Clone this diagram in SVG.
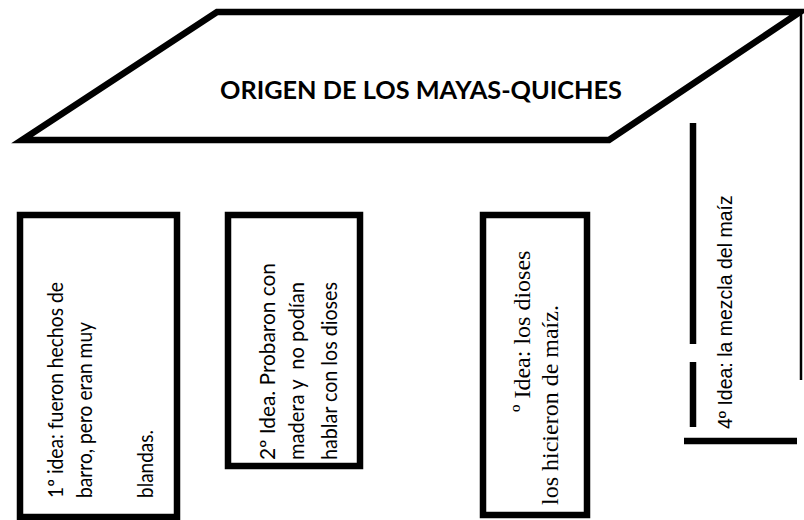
<svg xmlns="http://www.w3.org/2000/svg" width="804" height="520" viewBox="0 0 804 520">
<style>
.box{fill:#fff;stroke:#000;stroke-width:6.5}
.cal{font-family:Lato,"Liberation Sans",sans-serif;font-size:21px;fill:#000}
.tnr{font-family:"Liberation Serif",serif;font-size:24px;fill:#000}
.ari{font-family:"Liberation Sans",Arial,sans-serif;font-size:19.5px;fill:#000}
.bar{stroke:#000;stroke-width:6.5;fill:none}
</style>
<rect width="804" height="520" fill="#fff"/>
<g id="title">
<polygon points="217,12 800,12 609,140 22,140" fill="#fff" stroke="#000" stroke-width="6.5" stroke-linejoin="miter"/>
<text x="220" y="99" font-family="Lato,'Liberation Sans',sans-serif" font-weight="bold" font-size="25" fill="#000" textLength="402" lengthAdjust="spacingAndGlyphs">ORIGEN DE LOS MAYAS-QUICHES</text>
</g>
<g id="connectors">
<line x1="801" y1="12" x2="801" y2="380" stroke="#000" stroke-width="2.5"/>
</g>
<g id="idea1">
<rect class="box" x="20" y="215" width="157" height="302"/>
<text class="cal" transform="translate(63,498) rotate(-90)" textLength="216" lengthAdjust="spacingAndGlyphs">1º idea: fueron hechos de</text>
<text class="cal" transform="translate(92,498) rotate(-90)" textLength="176" lengthAdjust="spacingAndGlyphs">barro, pero eran muy</text>
<text class="cal" transform="translate(153,498) rotate(-90)" textLength="68" lengthAdjust="spacingAndGlyphs">blandas.</text>
</g>
<g id="idea2">
<rect class="box" x="228" y="215" width="132" height="251"/>
<text class="cal" transform="translate(275,460) rotate(-90)" textLength="197" lengthAdjust="spacingAndGlyphs">2º Idea. Probaron con</text>
<text class="cal" transform="translate(304,460) rotate(-90)" xml:space="preserve" textLength="178" lengthAdjust="spacingAndGlyphs">madera y  no podían</text>
<text class="cal" transform="translate(337,460) rotate(-90)" textLength="178" lengthAdjust="spacingAndGlyphs">hablar con los dioses</text>
</g>
<g id="idea3">
<rect class="box" x="483" y="215" width="104" height="300"/>
<text class="tnr" transform="translate(530,412) rotate(-90)">º Idea: los dioses</text>
<text class="tnr" transform="translate(558,505) rotate(-90)">los hicieron de maíz.</text>
</g>
<g id="idea4">
<line class="bar" x1="693" y1="123" x2="693" y2="344"/>
<line class="bar" x1="693" y1="362" x2="693" y2="427"/>
<line class="bar" x1="684" y1="441" x2="797" y2="441"/>
<text class="ari" transform="translate(732,429) rotate(-90)">4º Idea: la mezcla del maíz</text>
</g>
</svg>
